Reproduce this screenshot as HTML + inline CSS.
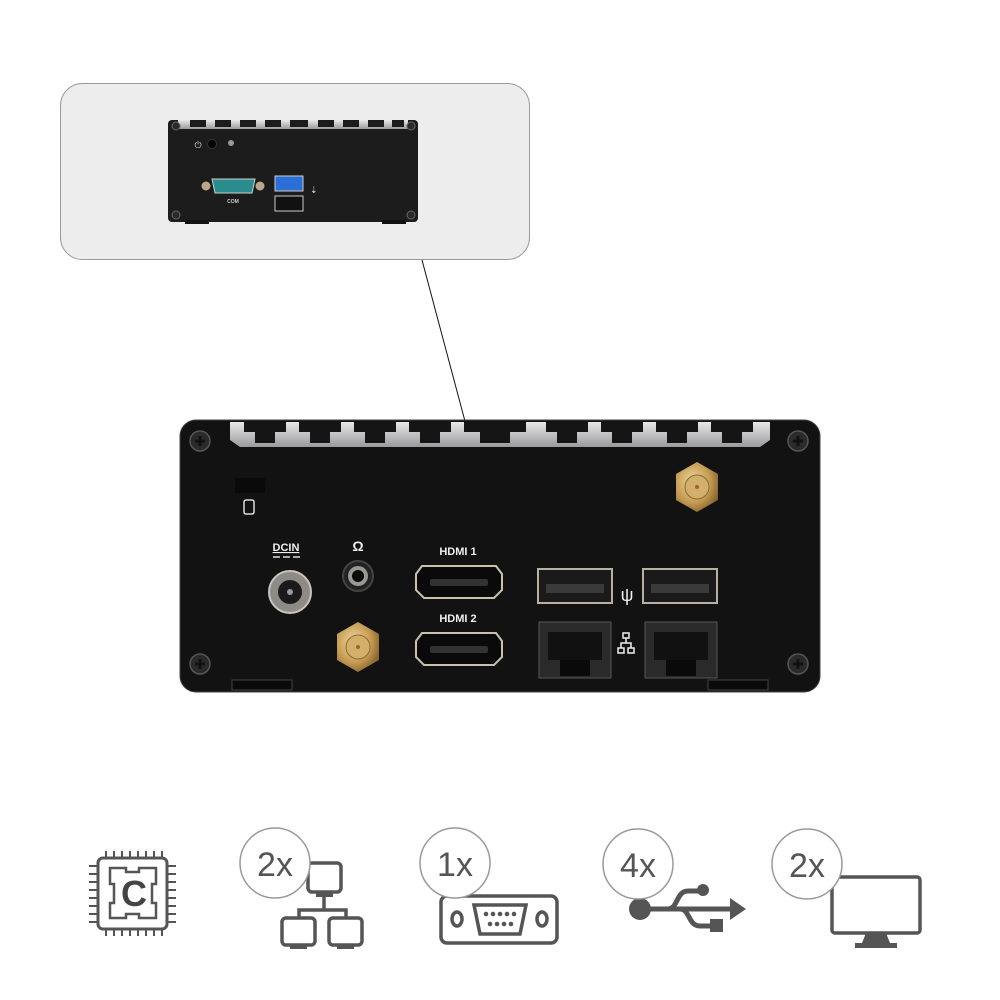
<!DOCTYPE html>
<html><head><meta charset="utf-8">
<style>
html,body{margin:0;padding:0;background:#fff;}
svg{display:block;font-family:"Liberation Sans",sans-serif;}
</style></head>
<body>
<svg width="1000" height="1000" viewBox="0 0 1000 1000" xmlns="http://www.w3.org/2000/svg">
<defs>
<linearGradient id="fin" x1="0" y1="0" x2="0" y2="1">
<stop offset="0" stop-color="#e8e8ea"/><stop offset="1" stop-color="#9a9a9c"/>
</linearGradient>
<radialGradient id="gold" cx="0.4" cy="0.4" r="0.7">
<stop offset="0" stop-color="#f0d8a0"/><stop offset="0.6" stop-color="#c49a50"/><stop offset="1" stop-color="#7a5a28"/>
</radialGradient>
<g id="screw"><circle r="10" fill="#2a2a2a" stroke="#555" stroke-width="1.5"/><path d="M-5 0H5M0 -5V5" stroke="#111" stroke-width="3"/></g>
<g id="sscrew"><circle r="4" fill="#2a2a2a" stroke="#666"/></g>
</defs>

<!-- Top callout panel -->
<rect x="60.5" y="83.5" width="469" height="176" rx="22" fill="#ededed" stroke="#9a9a9a"/>
<!-- small device -->
<rect x="168" y="120" width="250" height="102" rx="4" fill="#1c1c1d"/>
<rect x="178" y="120" width="230" height="9" fill="url(#fin)"/>
<g fill="#1c1c1d">
<rect x="190" y="120" width="16" height="7"/><rect x="215" y="120" width="16" height="7"/><rect x="240" y="120" width="16" height="7"/><rect x="265" y="120" width="16" height="7"/><rect x="290" y="120" width="18" height="7"/><rect x="318" y="120" width="16" height="7"/><rect x="343" y="120" width="16" height="7"/><rect x="368" y="120" width="16" height="7"/><rect x="392" y="120" width="12" height="7"/>
</g>
<use href="#sscrew" x="176" y="126"/><use href="#sscrew" x="411" y="126"/><use href="#sscrew" x="176" y="215"/><use href="#sscrew" x="411" y="215"/>
<rect x="185" y="220" width="24" height="4" fill="#111"/><rect x="382" y="220" width="24" height="4" fill="#111"/>
<text x="198" y="148" fill="#ddd" font-size="9" text-anchor="middle">⏻</text>
<circle cx="212" cy="144" r="4.5" fill="#050505" stroke="#333"/>
<circle cx="231" cy="143" r="3" fill="#999"/>
<!-- COM -->
<circle cx="206" cy="186" r="4.5" fill="#b9a98a"/><circle cx="260" cy="186" r="4.5" fill="#b9a98a"/>
<path d="M212 179H255L252 193H215Z" fill="#2a8c8c" stroke="#cfcfcf" stroke-width="1"/>
<text x="233" y="203" fill="#ccc" font-size="5" text-anchor="middle" font-weight="bold">COM</text>
<!-- USBs -->
<rect x="275" y="176" width="28" height="15" fill="#2a6fd6" stroke="#ccc"/>
<rect x="275" y="196" width="28" height="15" fill="#111" stroke="#ccc"/>
<text x="310" y="193" fill="#ddd" font-size="9">⇣</text>

<!-- connector line -->
<line x1="422" y1="260" x2="466" y2="425" stroke="#111" stroke-width="1"/>

<!-- Main device -->
<rect x="180" y="420" width="640" height="272" rx="16" fill="#121213"/>
<rect x="180" y="420" width="640" height="272" rx="16" fill="none" stroke="#444" stroke-width="1"/>
<path d="M230 422H770V440L760 447H240L230 440Z" fill="url(#fin)"/>
<g fill="#151516">
<path d="M244 422h42v10h-11v11h-20v-11h-11z"/>
<path d="M299 422h42v10h-11v11h-20v-11h-11z"/>
<path d="M354 422h42v10h-11v11h-20v-11h-11z"/>
<path d="M409 422h42v10h-11v11h-20v-11h-11z"/>
<path d="M464 422h62v10h-16v11h-30v-11h-16z"/>
<path d="M546 422h42v10h-11v11h-20v-11h-11z"/>
<path d="M601 422h42v10h-11v11h-20v-11h-11z"/>
<path d="M656 422h42v10h-11v11h-20v-11h-11z"/>
<path d="M711 422h42v10h-11v11h-20v-11h-11z"/>
</g>
<use href="#screw" x="200" y="441"/><use href="#screw" x="798" y="441"/>
<use href="#screw" x="200" y="664"/><use href="#screw" x="798" y="664"/>
<rect x="232" y="680" width="60" height="10" fill="#0a0a0a" stroke="#444"/>
<rect x="708" y="680" width="60" height="10" fill="#0a0a0a" stroke="#444"/>
<rect x="235" y="478" width="30" height="15" fill="#0a0a0a"/>
<rect x="244" y="500" width="10" height="14" rx="2" fill="none" stroke="#ddd" stroke-width="1.5"/>

<!-- DCIN -->
<text x="286" y="551" fill="#eee" font-size="11" font-weight="bold" text-anchor="middle" text-decoration="underline">DCIN</text>
<path d="M273 557h7m3 0h7m3 0h7" stroke="#ddd" stroke-width="1.5"/>
<circle cx="290" cy="592" r="21" fill="#8e8a85" stroke="#c8c4bf" stroke-width="2"/>
<circle cx="290" cy="592" r="12" fill="#1a1a1a"/>
<circle cx="290" cy="592" r="3" fill="#999"/>
<!-- audio -->
<text x="358" y="551" fill="#eee" font-size="14" font-weight="bold" text-anchor="middle">Ω</text>
<circle cx="358" cy="576" r="15" fill="#222" stroke="#444" stroke-width="2"/>
<circle cx="358" cy="576" r="10" fill="#9b9894"/>
<circle cx="358" cy="576" r="6" fill="#0a0a0a"/>
<!-- SMA -->
<polygon points="358,622 379,634 379,660 358,672 337,660 337,634" fill="url(#gold)"/>
<circle cx="358" cy="647" r="12" fill="#d2b06c" stroke="#8a6a30"/>
<circle cx="358" cy="647" r="2" fill="#a06040"/>
<polygon points="697,462 718,474 718,500 697,512 676,500 676,474" fill="url(#gold)"/>
<circle cx="697" cy="487" r="12" fill="#d2b06c" stroke="#8a6a30"/>
<circle cx="697" cy="487" r="2" fill="#a06040"/>
<!-- HDMI -->
<text x="458" y="555" fill="#eee" font-size="11" font-weight="bold" text-anchor="middle">HDMI 1</text>
<path d="M422 566H496L502 574V590L494 598H424L416 590V574Z" fill="#0a0a0a" stroke="#c9c0ae" stroke-width="2"/>
<rect x="430" y="579" width="58" height="7" rx="2" fill="#333"/>
<text x="458" y="622" fill="#eee" font-size="11" font-weight="bold" text-anchor="middle">HDMI 2</text>
<path d="M422 633H496L502 641V657L494 665H424L416 657V641Z" fill="#0a0a0a" stroke="#c9c0ae" stroke-width="2"/>
<rect x="430" y="646" width="58" height="7" rx="2" fill="#333"/>
<!-- USB -->
<rect x="538" y="569" width="74" height="34" fill="#1a1a1a" stroke="#b8b0a0" stroke-width="2"/>
<rect x="546" y="584" width="58" height="9" fill="#3a3a3a"/>
<rect x="643" y="569" width="74" height="34" fill="#1a1a1a" stroke="#b8b0a0" stroke-width="2"/>
<rect x="651" y="584" width="58" height="9" fill="#3a3a3a"/>
<text x="627" y="601" fill="#eee" font-size="18" text-anchor="middle">ψ</text>
<!-- RJ45 -->
<rect x="539" y="622" width="72" height="56" fill="#2a2a2a" stroke="#555"/>
<rect x="548" y="632" width="54" height="28" fill="#111"/>
<rect x="560" y="660" width="30" height="16" fill="#0a0a0a"/>
<rect x="645" y="622" width="72" height="56" fill="#2a2a2a" stroke="#555"/>
<rect x="654" y="632" width="54" height="28" fill="#111"/>
<rect x="666" y="660" width="30" height="16" fill="#0a0a0a"/>
<g fill="none" stroke="#eee" stroke-width="1.5">
<rect x="623" y="633" width="6" height="5"/><rect x="618" y="648" width="6" height="5"/><rect x="628" y="648" width="6" height="5"/>
<path d="M626 638v5M621 648v-5h10v5"/>
</g>

<!-- Bottom icons -->
<g fill="none" stroke="#555" stroke-width="3">
<!-- CPU -->
<rect x="98" y="858" width="69" height="71" rx="5"/>
<path d="M110 868H126V872H139V868H156V884H152V903H156V918H139V914H126V918H110V903H114V884H110Z" stroke-width="2.5"/>
<path d="M106 851v6M114 851v6M122 851v6M130 851v6M138 851v6M146 851v6M154 851v6M162 851v6M106 930v6M114 930v6M122 930v6M130 930v6M138 930v6M146 930v6M154 930v6M162 930v6M89 866h8M89 874h8M89 882h8M89 890h8M89 898h8M89 906h8M89 914h8M89 922h8M168 866h8M168 874h8M168 882h8M168 890h8M168 898h8M168 906h8M168 914h8M168 922h8" stroke-width="2"/>
</g>
<text x="134" y="906" fill="#444" font-size="36" font-weight="bold" text-anchor="middle">C</text>

<!-- network -->
<g fill="none" stroke="#555" stroke-width="3.5">
<rect x="308" y="863" width="33" height="29" rx="4"/>
<rect x="282" y="918" width="33" height="27" rx="4"/>
<rect x="329" y="918" width="33" height="27" rx="4"/>
<path d="M324 897V910M299 918V910H346V918"/>
</g>
<g fill="#555"><rect x="316" y="892" width="17" height="5"/><rect x="290" y="945" width="17" height="4"/><rect x="337" y="945" width="17" height="4"/></g>
<circle cx="275" cy="863" r="35" fill="#fff" stroke="#999" stroke-width="1.5"/>
<text x="275" y="876" fill="#555" font-size="34" text-anchor="middle">2x</text>

<!-- serial -->
<g fill="none" stroke="#555" stroke-width="3.5">
<rect x="441" y="896" width="116" height="47" rx="6"/>
<path d="M474 905H526L520 934H480Z"/>
<ellipse cx="457" cy="919" rx="5" ry="7"/><ellipse cx="542" cy="919" rx="5" ry="7"/>
</g>
<g fill="#555"><circle cx="486" cy="914" r="2.3"/><circle cx="493" cy="914" r="2.3"/><circle cx="500" cy="914" r="2.3"/><circle cx="507" cy="914" r="2.3"/><circle cx="514" cy="914" r="2.3"/><circle cx="490" cy="924" r="2.3"/><circle cx="497" cy="924" r="2.3"/><circle cx="504" cy="924" r="2.3"/><circle cx="511" cy="924" r="2.3"/></g>
<circle cx="455" cy="863" r="35" fill="#fff" stroke="#999" stroke-width="1.5"/>
<text x="455" y="876" fill="#555" font-size="34" text-anchor="middle">1x</text>

<!-- USB symbol -->
<g fill="#555" stroke="#555">
<circle cx="640" cy="909" r="11" stroke="none"/>
<path d="M645 909H732" stroke-width="5"/>
<polygon points="730,898 746,909 730,920" stroke="none"/>
<path d="M668 909C678 909 676 891 688 891H702" fill="none" stroke-width="5"/>
<circle cx="703" cy="890" r="6" stroke="none"/>
<path d="M680 909C690 909 688 926 700 926H712" fill="none" stroke-width="5"/>
<rect x="710" y="919" width="13" height="13" stroke="none"/>
</g>
<circle cx="638" cy="864" r="35" fill="#fff" stroke="#999" stroke-width="1.5"/>
<text x="638" y="877" fill="#555" font-size="34" text-anchor="middle">4x</text>

<!-- monitor -->
<rect x="832" y="877" width="88" height="56" rx="3" fill="none" stroke="#555" stroke-width="3.5"/>
<polygon points="866,933 886,933 890,943 862,943" fill="#555"/>
<rect x="855" y="943" width="42" height="5" fill="#555"/>
<circle cx="807" cy="864" r="35" fill="#fff" stroke="#999" stroke-width="1.5"/>
<text x="807" y="877" fill="#555" font-size="34" text-anchor="middle">2x</text>
</svg>
</body></html>
